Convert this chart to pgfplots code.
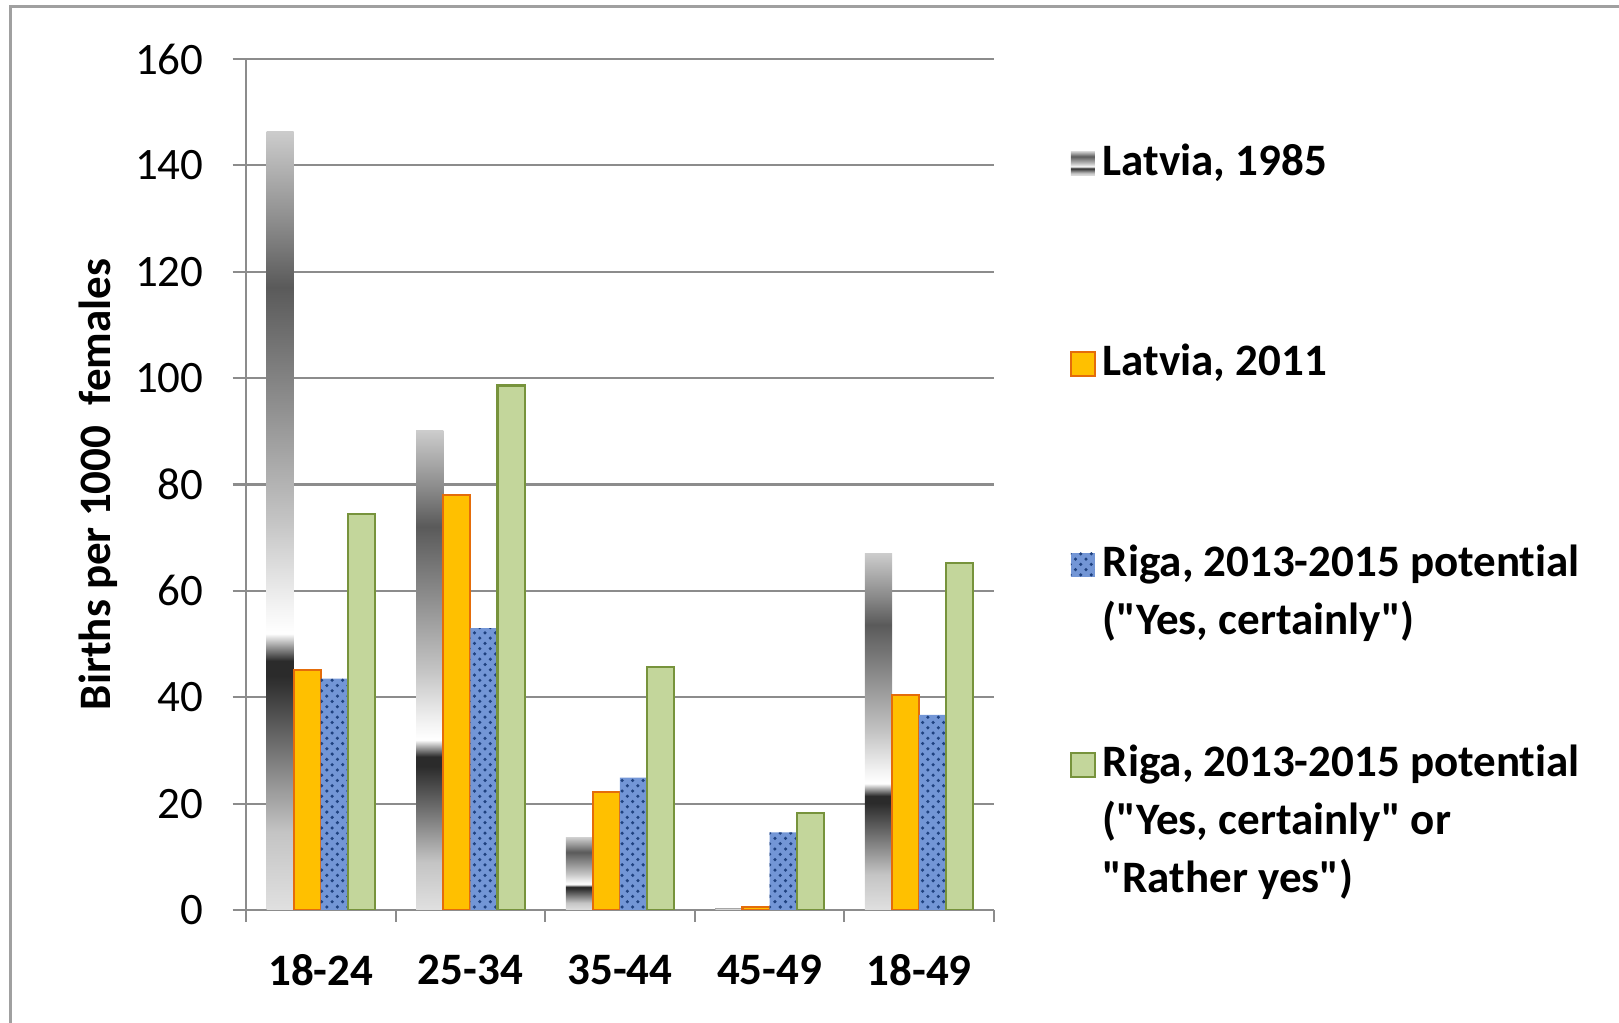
\documentclass[border=0pt]{standalone}
\usepackage{fontspec}
\setmainfont{Carlito}[Ligatures={NoCommon}]
\usepackage{pgfplots}
\pgfplotsset{compat=1.18}
\usetikzlibrary{patterns}
\definecolor{sA}{HTML}{E0E0E0}
\definecolor{sB}{HTML}{2B2B2B}
\definecolor{sC}{HTML}{FFFFFF}
\definecolor{sD}{HTML}{F3F3F3}
\definecolor{sE}{HTML}{C4C4C4}
\definecolor{sF}{HTML}{8E8E8E}
\definecolor{sG}{HTML}{5A5A5A}
\definecolor{sH}{HTML}{8A8A8A}
\definecolor{sI}{HTML}{CCCCCC}
\pgfdeclareverticalshading{lat85}{100bp}{color(0bp)=(sA); color(25bp)=(sA); color(30bp)=(sE); color(40bp)=(sB); color(41bp)=(sB); color(42.75bp)=(sC); color(44.5bp)=(sD); color(50bp)=(sE); color(57.5bp)=(sF); color(65bp)=(sG); color(69bp)=(sH); color(75bp)=(sI); color(100bp)=(sI)}
\definecolor{frame}{HTML}{A0A0A0}
\definecolor{axgray}{HTML}{8C8C8C}
\definecolor{orfill}{HTML}{FFC000}
\definecolor{ordraw}{HTML}{E46C0A}
\definecolor{blfill}{HTML}{7396D6}
\definecolor{bldot}{HTML}{1F417F}
\definecolor{grfill}{HTML}{C3D69B}
\definecolor{grdraw}{HTML}{77933C}
\newcommand{\q}{\textquotedbl}
\begin{document}
\fontsize{12.8}{16.5}\selectfont
\begin{tikzpicture}
\useasboundingbox (0,0) rectangle (16.19,10.23);
\draw[draw=frame, line width=0.3mm] (0.10,-1) rectangle (17.5,10.16);
\begin{axis}[
  at={(2.46cm,1.13cm)}, anchor=south west,
  scale only axis, width=7.48cm, height=8.51cm,
  xmin=-0.5, xmax=4.5, ymin=0, ymax=160,
  ytick={0,20,...,160},
  xtick={0,1,2,3,4},
  xticklabels={18-24,25-34,35-44,45-49,18-49},
  minor xtick={-0.5,0.5,1.5,2.5,3.5,4.5},
  /pgf/number format/assume math mode=true,
  axis lines=left,
  axis line style={-, draw=axgray, line width=0.6pt},
  tick style={draw=axgray, line width=0.6pt},
  major x tick style={draw=none},
  tick align=outside,
  major tick length=1.34mm, minor tick length=1.2mm,
  ymajorgrids, grid style={draw=axgray, line width=0.6pt},
  xticklabel style={font=\bfseries, yshift=-1.55mm},
  yticklabel style={xshift=-1.34mm},
  ylabel={Births per 1000\hspace{0.45em}females},
  ylabel style={font=\bfseries, at={(axis description cs:-0.198,0.5)}, anchor=center, rotate=0},
  ybar=0pt, bar width=0.271cm,
  legend image code/.code={\path[#1] (0cm,0cm) rectangle (0.24cm,0.24cm);},
  legend cell align=left,
  legend style={draw=none, fill=none, inner sep=0pt, column sep=0.07cm, row sep=0pt,
    nodes={inner sep=0pt}, font=\bfseries,
    at={(axis description cs:1.1003,0.912)}, anchor=north west},
]
% Latvia 1985: one plot per bar so that each bar gets its own shading
\addplot[shade, shading=lat85, draw=none, bar shift=-0.4065cm] coordinates {(0,146.4)};
\addlegendentry[anchor=base west, text height=0.41cm, text depth=0pt]{\parbox[t]{5.1cm}{\raggedright Latvia, 1985}}
\addplot[forget plot, shade, shading=lat85, draw=none, bar shift=-0.4065cm] coordinates {(1,90.1)};
\addplot[forget plot, shade, shading=lat85, draw=none, bar shift=-0.4065cm] coordinates {(2,13.6)};
\addplot[forget plot, shade, shading=lat85, draw=none, bar shift=-0.4065cm] coordinates {(3,0.4)};
\addplot[forget plot, shade, shading=lat85, draw=none, bar shift=-0.4065cm] coordinates {(4,67.0)};
\addplot[fill=orfill, draw=ordraw, line width=0.6pt, bar shift=-0.1355cm] coordinates {(0,45.2) (1,78.1) (2,22.1) (3,0.5) (4,40.4)};
\addlegendentry[anchor=base west, text height=2cm, text depth=0pt]{\parbox[t]{5.1cm}{\raggedright Latvia, 2011}}
\addplot[fill=blfill, draw=none, bar shift=0.1355cm, postaction={pattern=crosshatch dots, pattern color=bldot}] coordinates {(0,43.5) (1,53.0) (2,24.9) (3,14.6) (4,36.7)};
\addlegendentry[anchor=base west, text height=2cm, text depth=0pt]{\parbox[t]{5.1cm}{\raggedright Riga, 2013-2015 potential\\(\q Yes, certainly\q)}}
\addplot[fill=grfill, draw=grdraw, line width=0.6pt, bar shift=0.4065cm] coordinates {(0,74.4) (1,98.6) (2,45.6) (3,18.3) (4,65.2)};
\addlegendentry[anchor=base west, text height=2cm, text depth=0pt]{\parbox[t]{5.1cm}{\raggedright Riga, 2013-2015 potential\\(\q Yes, certainly\q{} or\\\q Rather yes\q)}}
\end{axis}
\end{tikzpicture}
\end{document}
